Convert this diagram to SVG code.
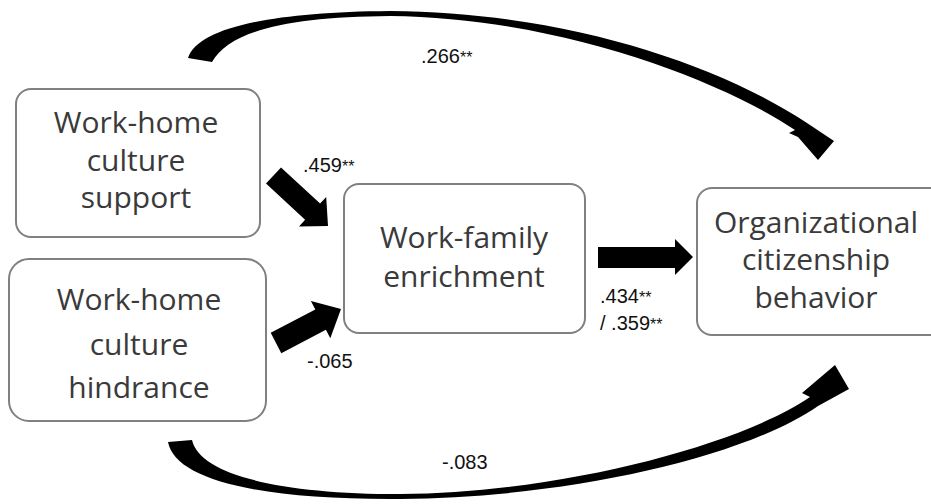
<svg xmlns="http://www.w3.org/2000/svg" width="931" height="504" viewBox="0 0 931 504">
<style>
.box{fill:#fff;stroke:#808080;stroke-width:2}
.nt{font-family:"Open Sans","Liberation Sans",sans-serif;font-size:30px;fill:#3a3a3a;text-anchor:middle}
.lb{font-family:"Liberation Sans",Arial,sans-serif;font-size:20px;fill:#111}
.st{font-size:16px}
.ar{fill:#000}
</style>
<rect width="931" height="504" fill="#fff"/>
<g id="connectors">
<path class="ar" d="M188,58 C198,28 270,12 390,11 C560,12 715,62 807,123 L834,141 L818,160 L798,137 L789,133 L795,130 C720,80 560,18 390,16 C290,17 230,30 212,62 Z"/>
<path class="ar" d="M168,442 C175,480 260,500 400,499 C560,498 740,460 818,406 L849,389 L835,365 L802,393 L810,397 C740,445 560,493 400,494 C280,494 200,475 192,440 Z"/>
<polygon class="ar" points="281,167.4 320.1,203.6 326.2,197 328,226 299,226.4 305.1,219.8 266,183.6"/>
<polygon class="ar" points="270.7,332.8 315.3,309.4 310.9,301 341,309 330.3,338.2 325.9,329.8 281.3,353.2"/>
<polygon class="ar" points="598,247 675,247 675,239 693,257 675,275 675,268 598,268"/>
<text class="lb" x="421" y="63">.266<tspan class="st">**</tspan></text>
<text class="lb" x="303" y="172">.459<tspan class="st">**</tspan></text>
<text class="lb" x="307" y="368">-.065</text>
<text class="lb" x="600" y="303">.434<tspan class="st">**</tspan></text>
<text class="lb" x="600" y="330">/ .359<tspan class="st">**</tspan></text>
<text class="lb" x="442" y="469">-.083</text>
</g>
<g id="support">
<rect class="box" x="16" y="89" width="244" height="148" rx="15"/>
<text class="nt" x="136" y="133">Work-home</text>
<text class="nt" x="136" y="171">culture</text>
<text class="nt" x="136" y="208">support</text>
</g>
<g id="hindrance">
<rect class="box" x="9" y="259" width="257" height="162" rx="20"/>
<text class="nt" x="139" y="310">Work-home</text>
<text class="nt" x="139" y="355">culture</text>
<text class="nt" x="139" y="398">hindrance</text>
</g>
<g id="enrichment">
<rect class="box" x="344" y="184" width="241" height="149" rx="15"/>
<text class="nt" x="464" y="248">Work-family</text>
<text class="nt" x="464" y="287">enrichment</text>
</g>
<g id="ocb">
<rect class="box" x="697" y="188" width="250" height="147" rx="15"/>
<text class="nt" x="816" y="233">Organizational</text>
<text class="nt" x="816" y="270">citizenship</text>
<text class="nt" x="816" y="308">behavior</text>
</g>
</svg>
